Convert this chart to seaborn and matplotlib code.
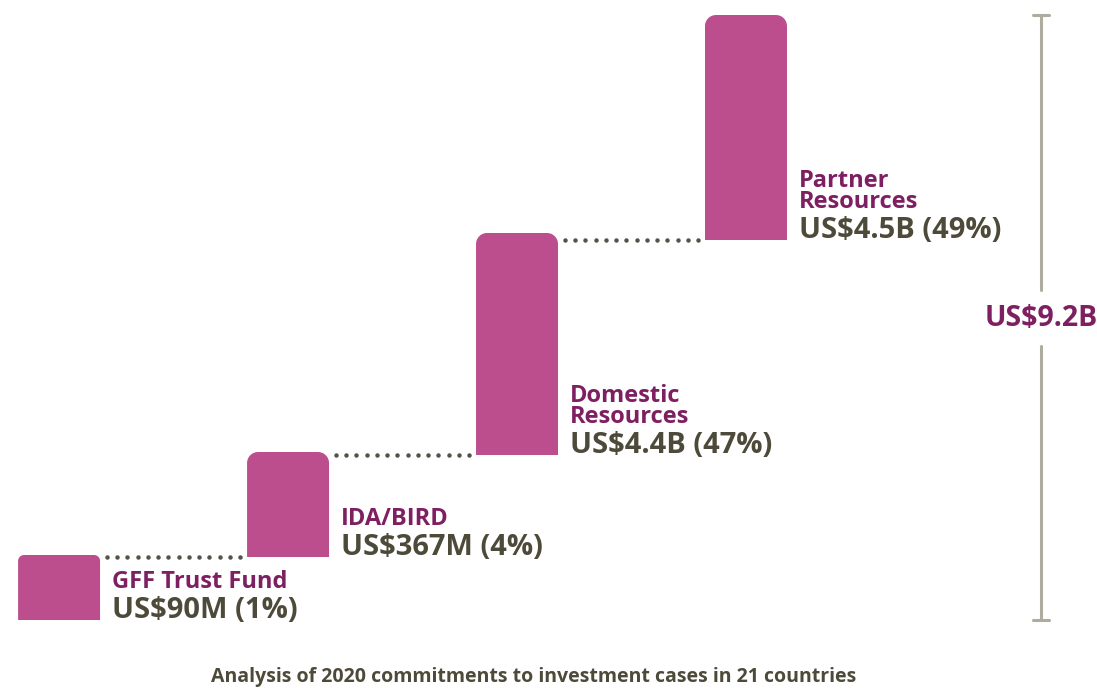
import numpy as np
import pandas as pd
import seaborn as sns
import matplotlib.pyplot as plt
from matplotlib.patches import Polygon

sns.set_theme(style="white")
plt.rcParams['font.family'] = ['Open Sans', 'DejaVu Sans']

# --- data (bar sizes are the stylised heights) ---
sources = ["GFF Trust Fund", "IDA/BIRD", "Domestic\nResources", "Partner\nResources"]
amounts = ["US$90M (1%)", "US$367M (4%)", "US$4.4B (47%)", "US$4.5B (49%)"]
bar_bottom = [0, 63, 165, 380]
bar_height = [65, 105, 222, 225]
total_label = "US$9.2B"
caption = "Analysis of 2020 commitments to investment cases in 21 countries"

BAR = "#bc4e8e"
PURPLE = "#7e1f62"
DARK = "#4d4a3a"
GREY = "#aeab9f"

df = pd.DataFrame({"source": sources, "height": bar_height, "bottom": bar_bottom})

fig = plt.figure(figsize=(10.97, 6.88), dpi=100)
ax = fig.add_axes([0, 0, 1, 1])

bw = 0.358
sns.barplot(data=df, x="source", y="height", bottom=df["bottom"].values,
            color=BAR, saturation=1, width=bw, ax=ax)
ax.set_xlim(-0.258, 4.533)
ax.set_ylim(-68, 620)
ax.axis("off")

# swap the plain rectangles for ones with rounded top corners
px_per_x = 1097 / (4.533 + 0.258)
for p in list(ax.patches):
    x0, y0, w, h = p.get_x(), p.get_y(), p.get_width(), p.get_height()
    r = 11 if h > 80 else 6
    rx = r / px_per_x
    t = np.linspace(0, np.pi / 2, 12)
    pts = [(x0, y0), (x0 + w, y0)]
    pts += [(x0 + w - rx + rx * np.cos(a), y0 + h - r + r * np.sin(a)) for a in t]
    pts += [(x0 + rx - rx * np.sin(a), y0 + h - r + r * np.cos(a)) for a in t]
    p.remove()
    ax.add_patch(Polygon(pts, closed=True, facecolor=BAR, edgecolor="none"))

# dotted connectors at the base of the next step
for i in range(len(sources) - 1):
    x_start = i + bw / 2 + 0.03
    x_end = i + 1 - bw / 2 - 0.03
    xs = np.linspace(x_start, x_end, 14)
    ax.plot(xs, [bar_bottom[i + 1]] * len(xs), linestyle="none", marker="o",
            markersize=2.2, color="#55524a")

# labels beside each bar
for i, (name, amt) in enumerate(zip(sources, amounts)):
    lx = i + bw / 2 + 0.052
    ax.text(lx, bar_bottom[i] + 2, amt, fontsize=21, fontweight="bold",
            color=DARK, va="baseline", ha="left")
    ax.text(lx, bar_bottom[i] + 32, name, fontsize=17, fontweight="bold",
            color=PURPLE, va="baseline", ha="left", linespacing=0.86)

# bracket with the total
bx = 4.288
top = bar_bottom[-1] + bar_height[-1]
mid = 302
cap = 8 / px_per_x
ax.plot([bx, bx], [0, mid - 28], color=GREY, lw=2.2)
ax.plot([bx, bx], [mid + 28, top], color=GREY, lw=2.2)
ax.plot([bx - cap, bx + cap], [0, 0], color=GREY, lw=2.2)
ax.plot([bx - cap, bx + cap], [top, top], color=GREY, lw=2.2)
ax.text(bx, mid, total_label, fontsize=20.5, fontweight="bold", color=PURPLE,
        ha="center", va="center")

fig.text(0.486, 0.016, caption, fontsize=14, fontweight="bold", color=DARK,
         ha="center", va="center")

fig.savefig("out.png", dpi=100)
